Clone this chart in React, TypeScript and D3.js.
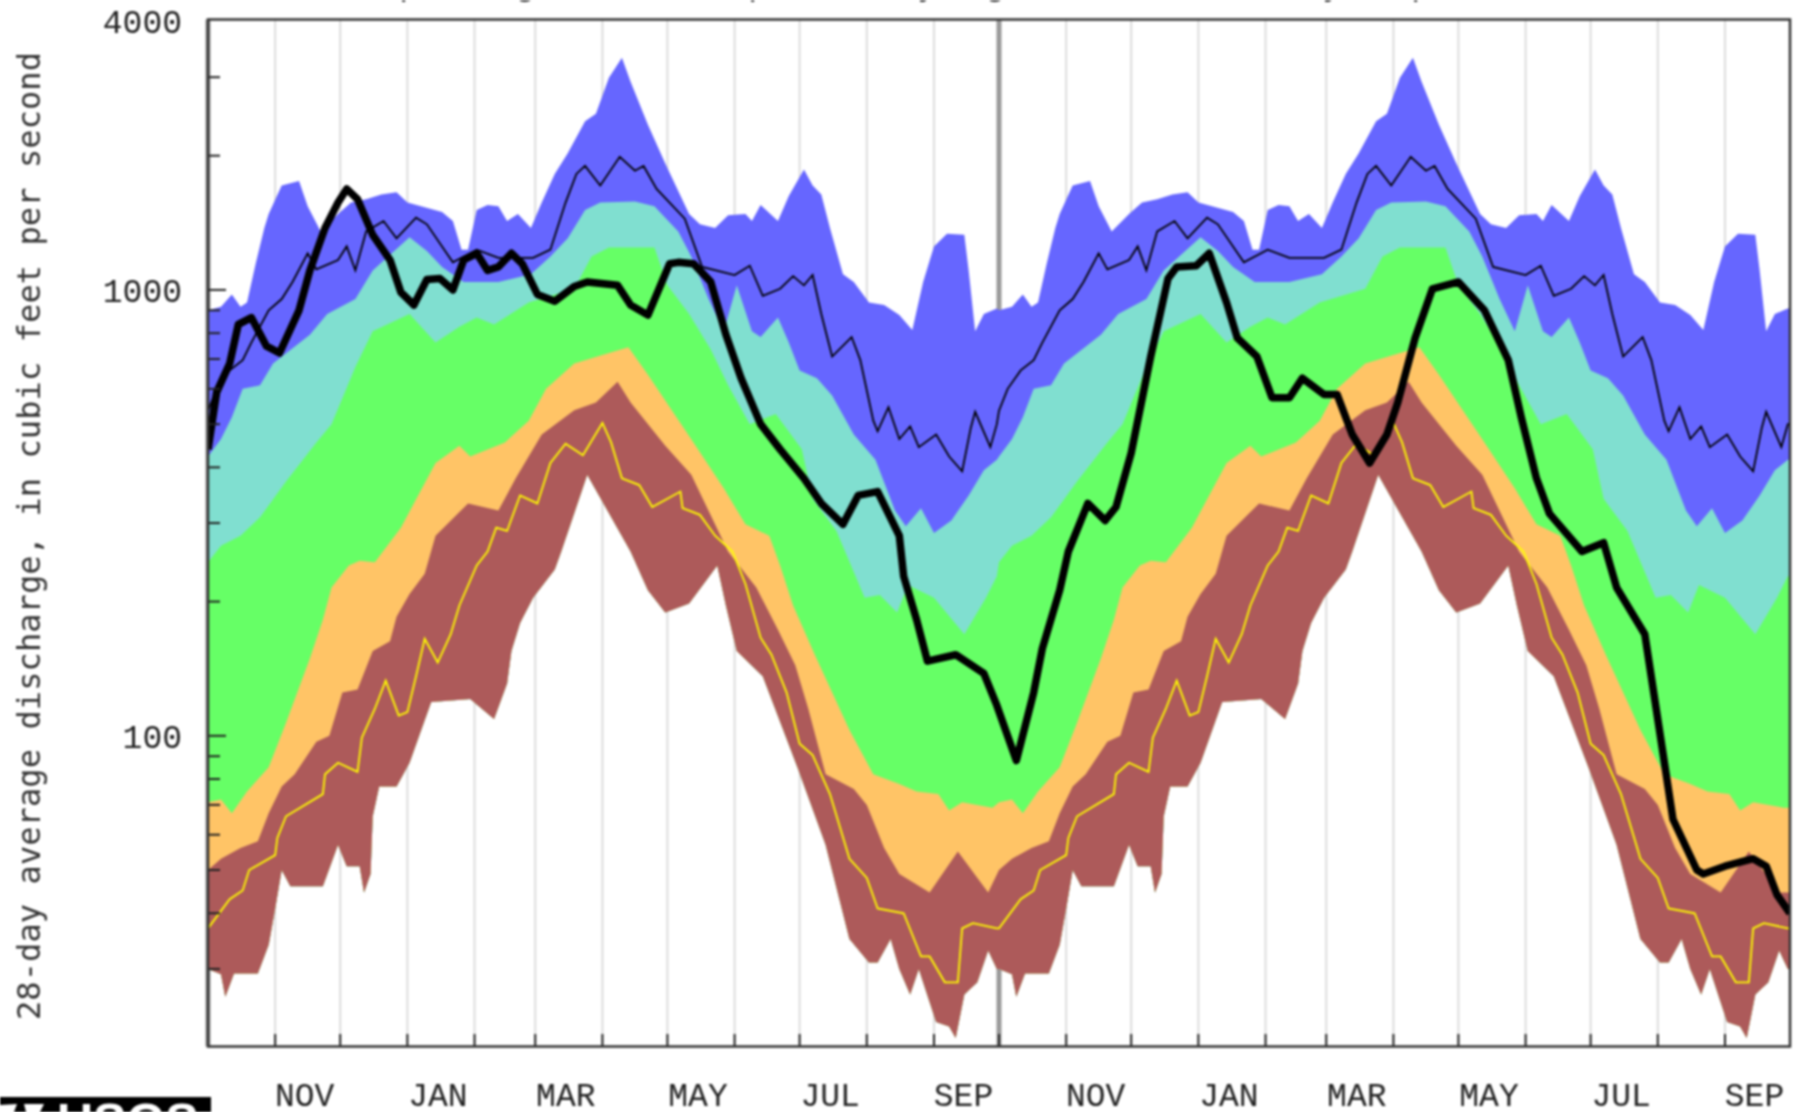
import React from 'react';
import * as d3 from 'd3';

const maxDays = [0,6,11,15,18,22,26,28,34,42,46,52,60,66,73,80,87,92,108,113,117,120,124,129,134,138,143,149,154,160,166,174,179,185,191,195,203,211,222,227,234,240,248,251,255,263,268,275,279,283,287,293,298,305,312,319,325,330,335,341,349,351,354,358,364];
const maxFlow = [900,917,977,917,937,1145,1377,1480,1714,1755,1541,1353,1480,1570,1597,1636,1655,1570,1496,1427,1231,1231,1510,1550,1541,1427,1480,1377,1570,1820,2025,2390,2485,2990,3315,2930,2348,1920,1480,1403,1377,1470,1480,1427,1550,1427,1625,1863,1714,1636,1377,1084,1042,937,925,878,813,1042,1252,1337,1329,1106,808,883,909];

const p90Days = [0,6,11,16,24,30,47,55,68,76,93,101,108,118,134,149,158,166,174,181,197,206,217,223,231,238,244,251,255,263,268,273,281,288,298,308,317,322,329,335,343,351,358,364];
const p90Flow = [423,463,518,600,611,684,793,883,954,1106,1313,1223,1126,1042,1042,1084,1188,1305,1510,1570,1579,1541,1353,1188,954,808,1024,808,784,867,762,660,634,580,474,416,320,295,324,285,304,346,394,416];

const p75Days = [0,6,15,24,36,50,57,68,76,93,105,116,124,132,148,169,177,185,206,212,222,232,240,250,262,274,279,290,303,310,318,323,335,349,359,364];
const p75Flow = [245,267,281,309,372,455,500,672,808,883,762,827,867,837,937,1006,1188,1245,1245,1024,883,735,611,500,527,439,340,288,204,207,189,218,204,169,204,228];

const p25Days = [0,6,11,18,28,36,47,53,57,65,70,77,89,105,116,121,137,148,156,169,185,194,203,214,224,238,248,259,264,270,280,296,307,319,327,337,342,348,362];
const p25Flow = [71,72,67,75,85,107,149,182,215,241,247,245,293,409,447,423,455,509,600,684,722,744,645,537,455,359,298,281,241,196,152,103,82,78,75,74,68,71,69];

const p10Days = [0,6,15,23,28,34,40,50,56,62,69,76,84,87,93,100,105,120,134,142,154,169,179,189,195,211,223,240,253,263,271,277,285,298,304,312,319,333,346,360];
const p10Flow = [50,53,56,58,67,77,82,97,100,125,127,155,163,185,208,231,281,332,320,378,474,537,559,622,559,447,385,259,215,173,144,115,82,76,70,56,49,44.5,55,44.5];

const minDays = [0,6,8,12,23,28,31,34,38,53,60,64,70,72,75,76,79,87,93,99,103,121,132,138,140,144,150,160,163,175,195,203,211,222,235,239,244,256,272,285,296,305,309,315,319,324,328,336,342,345,349,355,360,364];
const minFlow = [30,29.2,26,29.3,29.3,34,41,50,46,46,57,51,51,44.5,49,66,77,77,87,105,119,121,109,131,155,179,204,236,259,385,259,212,189,198,241,196,155,136,85,57,35,31,31,35,30,26.3,30,22.8,22.3,21,26.3,28,33,30];

const meanDays = [0,4,10,16,20,28,34,39,46,50,60,64,68,73,81,87,96,101,113,124,134,150,158,165,170,174,181,190,197,201,207,220,228,243,250,256,264,270,275,279,283,288,297,301,307,309,314,319,324,328,336,342,348,352,354,361,364];
const meanFlow = [536,600,660,696,762,900,954,1042,1208,1112,1167,1252,1106,1353,1427,1305,1452,1403,1153,1231,1180,1180,1231,1570,1820,1897,1714,1989,1851,1897,1685,1445,1126,1080,1133,970,1006,1074,1024,1080,883,709,784,696,509,482,546,463,494,444,474,423,392,491,533,444,500];

const lowDays = [0,10,16,19,31,32,36,53,54,60,69,71,77,82,88,92,96,100,106,112,116,124,129,133,138,144,152,158,165,173,182,186,191,199,205,218,219,227,234,242,248,255,260,267,273,279,287,296,304,309,321,329,333,340,346,348,353,364];
const lowFlow = [37,43,45,50,54,59,66,74,82,87,83,99,115,133,111,113,136,165,146,169,196,241,259,293,288,346,332,409,452,426,503,455,378,365,326,353,324,313,281,259,219,166,152,125,96,90.5,74,53,48,41,40,32,32,28,28,37,38,37];

// the station's own 28-day flow, two full years
const stationDays = [0,4,10,14,20,27,33,42,47,54,60,64,69,76,84,89,95,101,107,113,118,124,129,134,140,145,152,160,169,175,189,195,203,213,217,224,232,239,246,255,264,275,283,293,300,309,319,321,327,332,345,358,364,373,381,385,393,397,406,414,419,426,435,443,447,456,462,470,475,484,491,499,505,515,521,528,536,544,549,557,565,577,589,600,606,613,619,634,644,650,663,671,676,687,690,700,713,719,724,730];
const stationFlow = [439,590,684,837,867,748,722,900,1106,1377,1570,1685,1597,1329,1167,988,925,1055,1061,1000,1167,1208,1106,1126,1208,1145,977,943,1018,1042,1024,925,878,1145,1153,1145,1042,793,634,500,439,378,332,298,346,353,281,228,182,147,152,138,117,88,125,157,212,259,332,304,326,431,709,1061,1126,1133,1208,937,780,709,573,573,634,583,583,474,409,474,559,780,1006,1042,900,696,518,378,315,259,271,215,169,94,65,50,49,51,53,51,44,40];

const yTickLabels = [4000, 1000, 100];
const minorTicks = [3000, 2000, 900, 800, 700, 600, 500, 400, 300, 200, 90, 80, 70, 60, 50, 40, 30];
const monthLabels = ['NOV', 'JAN', 'MAR', 'MAY', 'JUL', 'SEP', 'NOV', 'JAN', 'MAR', 'MAY', 'JUL', 'SEP'];
const titleGlyphs = ['p', 'g', 'p', 'y', 'g', 'y', 'p'];
const titleGlyphX = [409, 526, 758, 927, 996, 1332, 1421];

const width = 1800;
const height = 1112;
const plot = { left: 208, right: 1790, top: 19.5, bottom: 1046.5 };
const mono = '"DejaVu Sans Mono", monospace';
const tickFont = '"Liberation Mono", monospace';

const start = new Date(Date.UTC(2021, 9, 1));
const end = new Date(Date.UTC(2023, 9, 1));
const x = d3.scaleUtc().domain([start, end]).range([plot.left, plot.right]);
const y = d3.scaleLog().domain([20.1, 4041]).range([plot.bottom, plot.top]);
const xDay = (d: number) => x(d3.utcDay.offset(start, d));

type Pt = [number, number];

// one year of day/flow pairs laid twice along the axis, closed at the right edge
const twoYears = (days: number[], flow: number[]): Pt[] => {
  const pts = days.map((d, i): Pt => [d, flow[i]]);
  return [...pts, ...pts.map(([d, v]): Pt => [d + 365, v]), [730, flow[flow.length - 1]]];
};

const band = d3
  .area<Pt>()
  .x((d) => xDay(d[0]))
  .y0(plot.bottom)
  .y1((d) => y(d[1]));

const above = d3
  .area<Pt>()
  .x((d) => xDay(d[0]))
  .y0(plot.top)
  .y1((d) => y(d[1]));

const line = d3
  .line<Pt>()
  .x((d) => xDay(d[0]))
  .y((d) => y(d[1]));

const bands: { pts: Pt[]; fill: string }[] = [
  { pts: twoYears(maxDays, maxFlow), fill: '#6666ff' },
  { pts: twoYears(p90Days, p90Flow), fill: '#80dfd0' },
  { pts: twoYears(p75Days, p75Flow), fill: '#66ff66' },
  { pts: twoYears(p25Days, p25Flow), fill: '#ffc466' },
  { pts: twoYears(p10Days, p10Flow), fill: '#ad5a5a' },
];

const months = d3.utcMonth.range(start, end);
const station = stationDays.map((d, i): Pt => [d, stationFlow[i]]);

export default function App() {
  return (
    <svg
      width={width}
      height={height}
      viewBox={`0 0 ${width} ${height}`}
      style={{ position: 'absolute', left: 0, top: 0, background: '#fff', filter: 'blur(1px)' }}
    >
      <defs>
        <clipPath id='plot-clip'>
          <rect x={plot.left} y={plot.top} width={plot.right - plot.left} height={plot.bottom - plot.top} />
        </clipPath>
        <clipPath id='above-min'>
          <path d={above(twoYears(minDays, minFlow)) ?? ''} />
        </clipPath>
      </defs>

      {titleGlyphs.map((g, i) => (
        <text key={i} x={titleGlyphX[i]} y={-5} textAnchor='middle' fontFamily={mono} fontSize={32} fill='#333'>
          {g}
        </text>
      ))}

      {months.map((m, i) => {
        const oct = m.getUTCMonth() === 9;
        return (
          <line
            key={i}
            x1={x(m)}
            x2={x(m)}
            y1={plot.top}
            y2={plot.bottom}
            stroke={oct ? '#999' : '#dcdcdc'}
            strokeWidth={oct ? 5 : 2}
          />
        );
      })}

      <g clipPath='url(#plot-clip)'>
        <g clipPath='url(#above-min)'>
          {bands.map((b, i) => (
            <path key={i} d={band(b.pts) ?? ''} fill={b.fill} />
          ))}
        </g>
        <path d={line(twoYears(lowDays, lowFlow)) ?? ''} fill='none' stroke='#ffff00' strokeWidth={1.8} />
        <path d={line(twoYears(meanDays, meanFlow)) ?? ''} fill='none' stroke='#000' strokeWidth={1.8} />
        <path d={line(station) ?? ''} fill='none' stroke='#000' strokeWidth={7.5} strokeLinejoin='round' />
      </g>

      {months.slice(1).map((m, i) => (
        <line key={i} x1={x(m)} x2={x(m)} y1={plot.bottom - 12.5} y2={plot.bottom} stroke='#222' strokeWidth={2} />
      ))}
      {minorTicks.map((t) => (
        <line key={t} x1={plot.left} x2={plot.left + 12} y1={y(t)} y2={y(t)} stroke='#222' strokeWidth={2} />
      ))}
      {yTickLabels.slice(1).map((t) => (
        <line key={t} x1={plot.left} x2={plot.left + 18} y1={y(t)} y2={y(t)} stroke='#222' strokeWidth={2} />
      ))}

      <rect
        x={plot.left}
        y={plot.top}
        width={plot.right - plot.left}
        height={plot.bottom - plot.top}
        fill='none'
        stroke='#333'
        strokeWidth={2.5}
      />

      {yTickLabels.map((t) => (
        <text key={t} x={182} y={y(t) + 12} textAnchor='end' fontFamily={tickFont} fontSize={33} fill='#222'>
          {t}
        </text>
      ))}

      {monthLabels.map((label, i) => {
        const m = months[i * 2 + 1];
        const mid = new Date((+m + +d3.utcMonth.offset(m, 1)) / 2);
        return (
          <text key={i} x={x(mid) - 3} y={1106} textAnchor='middle' fontFamily={tickFont} fontSize={33} fill='#222'>
            {label}
          </text>
        );
      })}

      <text
        transform='translate(40,536) rotate(-90)'
        textAnchor='middle'
        fontFamily={mono}
        fontSize={32}
        fill='#333'
        textLength={968}
      >
        28-day average discharge, in cubic feet per second
      </text>

      <rect x={0} y={1097} width={211} height={15} fill='#000' />
      <path d='M0,1112 L0,1105 L17,1104 L14,1112 Z M24,1104 L44,1104 L40,1112 L26,1112 Z' fill='#fff' />
      <text x={57} y={1139} fontFamily='"Liberation Sans", sans-serif' fontWeight='bold' fontSize={50} fill='#fff'>
        USGS
      </text>
    </svg>
  );
}
